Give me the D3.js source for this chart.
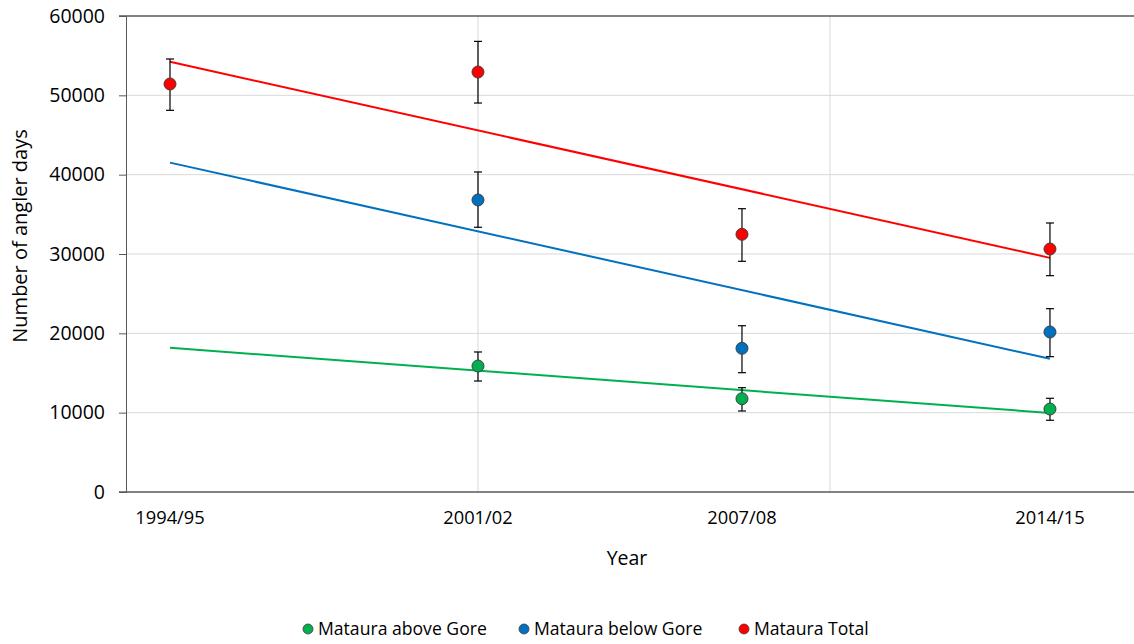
<!DOCTYPE html>
<html>
<head>
<meta charset="utf-8">
<script src="https://cdn.jsdelivr.net/npm/d3@7/dist/d3.min.js"></script>
<style>
  html, body { margin: 0; padding: 0; background: #fff; }
  svg { display: block; font-family: "Open Sans", "Liberation Sans", sans-serif; }
</style>
</head>
<body>
<svg id="chart" width="1134" height="644"></svg>
<script>
// Survey seasons (start year) and their labels
const years = [1994, 2001, 2007, 2014];
const yearLabels = ["1994/95", "2001/02", "2007/08", "2014/15"];

// Angler-day estimates with lower/upper error bounds (null = no survey estimate)
const aboveGore     = [null, 15880, 11760, 10460];
const aboveGoreLow  = [null, 13990, 10210, 9040];
const aboveGoreHigh = [null, 17650, 13150, 11810];

const belowGore     = [null, 36810, 18110, 20170];
const belowGoreLow  = [null, 33370, 15040, 17060];
const belowGoreHigh = [null, 40340, 20960, 23110];

const total     = [51430, 52940, 32480, 30630];
const totalLow  = [48110, 49030, 29080, 27270];
const totalHigh = [54580, 56800, 35710, 33910];

const seriesNames = ["Mataura above Gore", "Mataura below Gore", "Mataura Total"];
const seriesColors = ["#00B050", "#0070C0", "#FF0000"];

const yTicks = [0, 10000, 20000, 30000, 40000, 50000, 60000];
const xGridYears = [2001, 2009];

const series = [
  { name: seriesNames[0], color: seriesColors[0], values: aboveGore, low: aboveGoreLow, high: aboveGoreHigh },
  { name: seriesNames[1], color: seriesColors[1], values: belowGore, low: belowGoreLow, high: belowGoreHigh },
  { name: seriesNames[2], color: seriesColors[2], values: total, low: totalLow, high: totalHigh }
];

const svg = d3.select("#chart");
const plotLeft = 126, plotRight = 1134, plotTop = 16, plotBottom = 492;

const x = d3.scaleLinear().domain([1993, 2015.91]).range([plotLeft, plotRight]);
const y = d3.scaleLinear().domain([0, 60000]).range([plotBottom, plotTop]);

// Gridlines
const grid = svg.append("g");
grid.selectAll("line.h").data(yTicks.slice(1, -1)).join("line")
  .attr("x1", plotLeft).attr("x2", plotRight)
  .attr("y1", d => y(d)).attr("y2", d => y(d))
  .attr("stroke", "#d9d9d9").attr("stroke-width", 1);
grid.selectAll("line.v").data(xGridYears).join("line")
  .attr("x1", d => x(d)).attr("x2", d => x(d))
  .attr("y1", plotTop).attr("y2", plotBottom)
  .attr("stroke", "#d9d9d9").attr("stroke-width", 1);

// Y axis
const yAxis = d3.axisLeft(y).tickValues(yTicks).tickFormat(d3.format("d"))
  .tickSize(7).tickPadding(14);
const gy = svg.append("g").attr("transform", `translate(${plotLeft},0)`).call(yAxis);
gy.select(".domain").attr("stroke", "#595959");
gy.selectAll(".tick line").attr("stroke", "#595959");
gy.selectAll(".tick text").attr("fill", "#000").style("font-size", "19.5px")
  .style("font-family", "'Open Sans', sans-serif");

// X axis baseline and top frame line
svg.append("line").attr("x1", plotLeft - 7).attr("x2", plotRight)
  .attr("y1", plotBottom).attr("y2", plotBottom).attr("stroke", "#595959").attr("stroke-width", 1.5);
svg.append("line").attr("x1", plotLeft - 7).attr("x2", plotRight)
  .attr("y1", plotTop).attr("y2", plotTop).attr("stroke", "#595959").attr("stroke-width", 1.5);

// X tick labels
svg.append("g").selectAll("text").data(years).join("text")
  .attr("x", d => x(d)).attr("y", 524)
  .attr("text-anchor", "middle")
  .style("font-size", "18.3px")
  .text((d, i) => yearLabels[i]);

// Axis titles
svg.append("text").attr("x", 627).attr("y", 565).attr("text-anchor", "middle")
  .style("font-size", "19.5px").text("Year");
svg.append("text")
  .attr("transform", `translate(27,236) rotate(-90)`)
  .attr("text-anchor", "middle").style("font-size", "20px")
  .text("Number of angler days");

// Least-squares trend lines spanning the survey years
function trend(vals) {
  const pts = years.map((yr, i) => [yr, vals[i]]).filter(p => p[1] != null);
  const mx = d3.mean(pts, p => p[0]), my = d3.mean(pts, p => p[1]);
  const sxy = d3.sum(pts, p => (p[0] - mx) * (p[1] - my));
  const sxx = d3.sum(pts, p => (p[0] - mx) ** 2);
  const b = sxy / sxx, a = my - b * mx;
  const x0 = years[0], x1 = years[years.length - 1];
  return [[x0, a + b * x0], [x1, a + b * x1]];
}
const line = d3.line().x(d => x(d[0])).y(d => y(d[1]));
series.forEach(s => {
  svg.append("path").datum(trend(s.values))
    .attr("d", line).attr("fill", "none")
    .attr("stroke", s.color).attr("stroke-width", 2);
});

// Error bars and markers
series.forEach(s => {
  const pts = years.map((yr, i) => ({ yr, v: s.values[i], lo: s.low[i], hi: s.high[i] }))
    .filter(p => p.v != null);
  const g = svg.append("g");
  g.selectAll("line.stem").data(pts).join("line")
    .attr("x1", p => x(p.yr)).attr("x2", p => x(p.yr))
    .attr("y1", p => y(p.lo)).attr("y2", p => y(p.hi))
    .attr("stroke", "#000").attr("stroke-width", 1.2);
  ["lo", "hi"].forEach(k => {
    g.selectAll("line.cap" + k).data(pts).join("line")
      .attr("x1", p => x(p.yr) - 4).attr("x2", p => x(p.yr) + 4)
      .attr("y1", p => y(p[k])).attr("y2", p => y(p[k]))
      .attr("stroke", "#000").attr("stroke-width", 1.2);
  });
  g.selectAll("circle").data(pts).join("circle")
    .attr("cx", p => x(p.yr)).attr("cy", p => y(p.v)).attr("r", 6)
    .attr("fill", s.color).attr("stroke", "#404040").attr("stroke-width", 1);
});

// Legend
const legendX = [308, 524, 744];
const lg = svg.append("g");
series.forEach((s, i) => {
  lg.append("circle").attr("cx", legendX[i]).attr("cy", 629).attr("r", 5)
    .attr("fill", s.color).attr("stroke", "#404040").attr("stroke-width", 0.8);
  lg.append("text").attr("x", legendX[i] + 10).attr("y", 635)
    .style("font-size", "17.6px").text(s.name);
});
</script>
</body>
</html>
